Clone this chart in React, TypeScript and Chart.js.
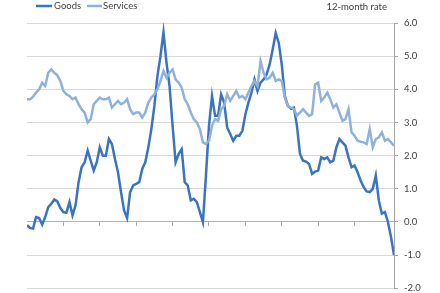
import React, { useEffect, useRef } from 'react';
import { Chart, registerables } from 'chart.js';

Chart.register(...registerables);

// 12-month rates, monthly observations (index 0 = first month)
const goods: number[] = [
  -0.1, -0.18, -0.2, 0.15, 0.12, -0.08, 0.15, 0.45, 0.55, 0.68,
  0.62, 0.42, 0.3, 0.28, 0.6, 0.2, 0.5, 1.2, 1.65, 1.8,
  2.15, 1.85, 1.55, 1.8, 2.25, 2.0, 2.0, 2.5, 2.35, 1.9,
  1.5, 0.9, 0.35, 0.12, 0.9, 1.1, 1.15, 1.2, 1.6, 1.8,
  2.25, 2.8, 3.5, 4.4, 5.0, 5.72, 4.8, 4.1, 2.9, 1.8,
  2.05, 2.2, 1.2, 1.1, 0.65, 0.7, 0.6, 0.3, 0.0, 1.4,
  2.9, 3.8, 3.2, 3.2, 3.85, 3.6, 2.85, 2.65, 2.45, 2.6,
  2.6, 2.75, 3.25, 3.6, 3.9, 4.3, 3.95, 4.2, 4.3, 4.45,
  4.75, 5.2, 5.7, 5.4, 4.75, 3.8, 3.5, 3.42, 3.45, 2.9,
  2.05, 1.85, 1.82, 1.75, 1.45, 1.52, 1.55, 1.95, 1.9, 1.95,
  1.8, 1.85, 2.25, 2.5, 2.4, 2.3, 1.95, 1.65, 1.7, 1.5,
  1.25, 1.05, 0.92, 0.9, 1.0, 1.4, 0.65, 0.25, 0.3, 0.0,
  -0.45, -1.0,
];

const services: number[] = [
  3.7, 3.7, 3.78, 3.9, 4.0, 4.2, 4.1, 4.5, 4.6, 4.5,
  4.42, 4.25, 3.95, 3.85, 3.8, 3.7, 3.75, 3.55, 3.4, 3.3,
  3.0, 3.1, 3.55, 3.65, 3.75, 3.7, 3.7, 3.75, 3.45, 3.55,
  3.65, 3.55, 3.6, 3.7, 3.4, 3.25, 3.3, 3.3, 3.15, 3.3,
  3.6, 3.75, 3.85, 4.0, 4.25, 4.55, 4.35, 4.5, 4.6, 4.3,
  4.2, 4.05, 3.7, 3.55, 3.3, 3.1, 3.0, 2.8, 2.4, 2.35,
  2.45, 2.9, 3.1, 3.05, 3.4, 3.5, 3.85, 3.65, 3.8, 3.95,
  3.75, 3.8, 3.7, 3.9, 4.1, 4.25, 4.1, 4.85, 4.5, 4.3,
  4.35, 4.5, 4.25, 4.3, 4.25, 3.75, 3.5, 3.45, 3.4, 3.2,
  3.3, 3.4, 3.3, 3.2, 3.25, 4.15, 4.2, 3.65, 3.75, 3.9,
  3.7, 3.45, 3.55, 3.3, 3.05, 3.1, 3.4, 2.7, 2.6, 2.45,
  2.42, 2.4, 2.35, 2.8, 2.25, 2.5, 2.55, 2.7, 2.45, 2.5,
  2.4, 2.3,
];

const months: number[] = goods.map((_, i) => i);
const yearTickMonths: number[] = [12, 24, 36, 48, 60, 72, 84, 96, 108];
const seriesNames: string[] = ['Goods', 'Services'];
const unitLabel = '12-month rate';
const yMin = -2;
const yMax = 6;

const GOODS_COLOR = '#3A73C0';
const SERVICES_COLOR = '#8FB2DD';
const TEXT_COLOR = '#404040';
const FONT = 'Lato, "Liberation Sans", sans-serif';

const overlayPlugin = {
  id: 'overlay',
  afterDraw(chart: any) {
    const ctx = chart.ctx;
    ctx.save();
    ctx.font = `9.5px ${FONT}`;
    ctx.fillStyle = TEXT_COLOR;
    ctx.textBaseline = 'middle';
    ctx.lineWidth = 2.5;
    // Goods legend
    ctx.strokeStyle = GOODS_COLOR;
    ctx.beginPath();
    ctx.moveTo(36, 6);
    ctx.lineTo(52, 6);
    ctx.stroke();
    ctx.textAlign = 'left';
    ctx.fillText(seriesNames[0], 54, 6);
    // Services legend
    ctx.strokeStyle = SERVICES_COLOR;
    ctx.beginPath();
    ctx.moveTo(87, 6);
    ctx.lineTo(102, 6);
    ctx.stroke();
    ctx.fillText(seriesNames[1], 103, 6);
    // unit label
    ctx.textAlign = 'right';
    ctx.fillText(unitLabel, 387, 7);
    ctx.restore();
  },
};

export default function App() {
  const ref = useRef<HTMLCanvasElement | null>(null);

  useEffect(() => {
    if (!ref.current) return;
    const chart = new Chart(ref.current, {
      type: 'line',
      data: {
        datasets: [
          {
            label: seriesNames[0],
            data: months.map((m, i) => ({ x: m, y: goods[i] })),
            borderColor: GOODS_COLOR,
            borderWidth: 2.5,
            pointRadius: 0,
            tension: 0,
            order: 1,
          },
          {
            label: seriesNames[1],
            data: months.map((m, i) => ({ x: m, y: services[i] })),
            borderColor: SERVICES_COLOR,
            borderWidth: 2.5,
            pointRadius: 0,
            tension: 0,
            order: 0,
          },
        ],
      },
      options: {
        responsive: false,
        animation: false,
        layout: { padding: { left: 27, top: 23, right: 0, bottom: 10.5 } },
        plugins: {
          legend: { display: false },
          tooltip: { enabled: false },
          title: { display: false },
        },
        scales: {
          x: {
            type: 'linear',
            position: { y: 0 } as any,
            min: 0,
            max: months.length - 1,
            afterBuildTicks: (axis: any) => {
              axis.ticks = yearTickMonths.map((v) => ({ value: v }));
            },
            ticks: { display: false },
            grid: {
              drawOnChartArea: false,
              drawTicks: true,
              tickLength: 4,
              tickColor: '#a6a6a6',
            },
            border: { display: true, color: '#b3b3b3', width: 1 },
          },
          y: {
            position: 'right',
            min: yMin,
            max: yMax,
            afterFit: (scale: any) => {
              scale.width = 46;
            },
            ticks: {
              stepSize: 1,
              padding: 6,
              color: TEXT_COLOR,
              font: { family: FONT, size: 9.5 },
              callback: (v: any) => Number(v).toFixed(1),
            },
            grid: {
              color: '#d9d9d9',
              lineWidth: 1,
              drawTicks: true,
              tickLength: 4,
              tickColor: '#a6a6a6',
            },
            border: { display: true, color: '#a6a6a6', width: 1 },
          },
        },
      },
      plugins: [overlayPlugin],
    });
    return () => chart.destroy();
  }, []);

  return (
    <div
      style={{
        position: 'fixed',
        left: 0,
        top: 0,
        width: 440,
        height: 293,
        overflow: 'hidden',
        background: '#ffffff',
      }}
    >
      <canvas ref={ref} width={440} height={300} style={{ display: 'block' }} />
    </div>
  );
}
